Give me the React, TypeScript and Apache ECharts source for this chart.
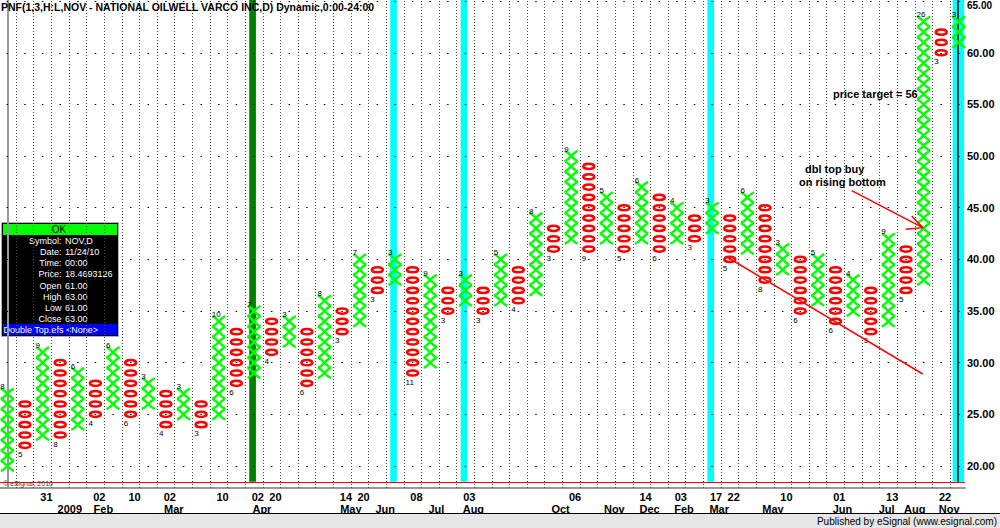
import React, { useEffect, useRef } from 'react';
import * as echarts from 'echarts';

// ---- data ----
const colType = ['X','O','X','O','X','O','X','O','X','O','X','O','X','O','X','O','X','O','X','O','X','O','X','O','X','O','X','O','X','O','X','O','X','O','X','O','X','O','X','O','X','O','X','O','X','O','X','O','X','O','X','O','X','O','X'];
const colLow = [20,22,23,23,24,25,26,25,26,24,25,24,25,28,29,31,32,28,29,33,34,37,38,29,30,35,36,35,36,36,37,41,42,41,42,41,42,41,42,42,43,40,41,38,39,35,36,34,35,33,34,37,38,60,61];
const colHigh = [27,26,31,30,29,28,31,30,28,27,27,26,34,33,35,34,34,33,36,35,40,39,40,39,38,37,38,37,40,39,44,43,50,49,46,45,47,46,45,44,45,44,46,45,41,40,40,39,38,37,42,41,63,62,63];

const yTicks = [20, 25, 30, 35, 40, 45, 50, 55, 60, 65];
const dayCols = [2, 5, 7, 9, 12, 14, 15, 19, 20, 23, 26, 32, 36, 38, 40, 41, 44, 47, 50, 53];
const dayTexts = ['31','02','10','02','10','02','20','14','20','08','03','06','14','03','17','22','10','01','13','22'];
const monthPos = [3.55, 5.45, 9.45, 14.45, 19.5, 21.45, 24.35, 26.45, 31.4, 34.45, 36.45, 38.4, 40.4, 43.45, 47.4, 49.9, 51.5, 53.45];
const monthTexts = ['2009','Feb','Mar','Apr','May','Jun','Jul','Aug','Oct','Nov','Dec','Feb','Mar','May','Jun','Jul','Aug','Nov'];

const bandCols = [14, 22, 26, 40, 54];
const bandKinds = ['signal', 'cyan', 'cyan', 'cyan', 'current'];

const cursorPrice = 18.4693126;
const lastPrice = 63.63;

const infoLabels = ['Symbol:', 'Date:', 'Time:', 'Price:', 'Open', 'High', 'Low', 'Close'];
const infoValues = ['NOV,D', '11/24/10', '00:00', '18.4693126', '61.00', '63.00', '61.00', '63.00'];

const titleText = 'PNF(1,3,H:L,NOV - NATIONAL OILWELL VARCO INC,D) Dynamic,0:00-24:00';

// ---- styles ----
const FONT = '"Liberation Sans", Arial, sans-serif';
const X_COLOR = '#00ff00';
const O_COLOR = '#ff0000';
const CYAN = '#00ffff';
const DARK_GREEN = '#008000';

const X_MIN = -0.414;
const X_MAX = 54.35;
const Y_MIN = 17.87;
const Y_MAX = 65.11;

function lookup(positions: number[], texts: string[]) {
  return (v: number) => {
    const i = positions.findIndex((p) => Math.abs(p - v) < 1e-6);
    return i >= 0 ? texts[i] : '';
  };
}

export default function App() {
  const ref = useRef<HTMLDivElement>(null);

  useEffect(() => {
    if (!ref.current) return;
    const chart = echarts.init(ref.current, null, { renderer: 'svg' });

    const boxData: number[][] = [];
    const countData: number[][] = [];
    for (let c = 0; c < colLow.length; c++) {
      const k = colType[c] === 'X' ? 0 : 1;
      for (let v = colLow[c]; v <= colHigh[c]; v++) boxData.push([c, v, k]);
      countData.push([c, k === 0 ? colHigh[c] : colLow[c], colHigh[c] - colLow[c] + 1, k]);
    }

    const boundaries: number[] = [];
    for (let c = 0; c < colLow.length - 1; c++) boundaries.push(c + 0.5);

    const dayPos = dayCols.map((c) => c + 0.22);
    const topTick = yTicks[yTicks.length - 1];

    const bandAreas = bandCols.map((c, i) => {
      const kind = bandKinds[i];
      const lo = kind === 'current' ? c - 0.35 : c - 0.27;
      const hi = kind === 'current' ? c + 0.3 : c + 0.11;
      return [
        { xAxis: lo, yAxis: cursorPrice, itemStyle: { color: kind === 'signal' ? DARK_GREEN : CYAN, opacity: 1 } },
        { xAxis: hi, yAxis: Y_MAX },
      ];
    });
    const currentBandLines = bandCols
      .filter((_, i) => bandKinds[i] === 'current')
      .map((c) => [
        { coord: [c - 0.08, cursorPrice] },
        { coord: [c - 0.08, Y_MAX] },
      ]);

    const labelCommon = {
      color: '#000',
      fontWeight: 'bold' as const,
      fontSize: 11,
      fontFamily: FONT,
    };

    const infoTop = 223;
    const infoChildren: any[] = [
      { type: 'rect', shape: { x: 1.5, y: infoTop - 0.5, width: 117, height: 114 }, style: { fill: '#000', stroke: '#b0b0b0', lineWidth: 1 } },
      { type: 'rect', shape: { x: 3, y: infoTop + 1, width: 114, height: 11 }, style: { fill: '#00ff00' } },
      { type: 'text', x: 59, y: infoTop + 6.5, style: { text: 'OK', fill: '#000', font: `10px ${FONT}`, align: 'center', verticalAlign: 'middle' } },
      { type: 'rect', shape: { x: 3, y: infoTop + 101, width: 114, height: 11 }, style: { fill: '#0000ff' } },
      { type: 'text', x: 3.5, y: infoTop + 107, style: { text: 'Double Top.efs <None>', fill: '#fff', font: `9px ${FONT}`, align: 'left', verticalAlign: 'middle' } },
    ];
    infoLabels.forEach((lab, i) => {
      const y = infoTop + 18 + i * 11.14;
      infoChildren.push({ type: 'text', x: 61.5, y, style: { text: lab, fill: '#fff', font: `9px ${FONT}`, align: 'right', verticalAlign: 'middle' } });
      infoChildren.push({ type: 'text', x: 65, y, style: { text: infoValues[i], fill: '#fff', font: `9px ${FONT}`, align: 'left', verticalAlign: 'middle' } });
    });

    const option: any = {
      animation: false,
      backgroundColor: '#fff',
      grid: { left: 0, right: 35, top: 0, bottom: 40, containLabel: false, outerBoundsMode: 'none' },
      xAxis: [
        {
          type: 'value', min: X_MIN, max: X_MAX,
          axisLine: { show: true, onZero: false, lineStyle: { color: '#9a9a9a', width: 2 } },
          axisTick: { show: false }, axisLabel: { show: false }, splitLine: { show: false },
        },
        {
          type: 'value', min: X_MIN, max: X_MAX, position: 'bottom', offset: 0,
          axisLine: { show: false },
          axisTick: { show: false },
          axisLabel: { ...labelCommon, customValues: dayPos, formatter: lookup(dayPos, dayTexts), margin: 3, hideOverlap: false },
          splitLine: { show: false },
        },
        {
          type: 'value', min: X_MIN, max: X_MAX, position: 'bottom', offset: 12,
          axisLine: { show: false },
          axisTick: { show: false },
          axisLabel: { ...labelCommon, customValues: monthPos, formatter: lookup(monthPos, monthTexts), margin: 3, hideOverlap: false },
          splitLine: { show: false },
        },
      ],
      yAxis: {
        type: 'value', position: 'right', min: Y_MIN, max: Y_MAX,
        axisLine: { show: true, lineStyle: { color: '#9a9a9a', width: 2 } },
        axisTick: { show: false },
        axisLabel: {
          ...labelCommon, customValues: yTicks, margin: 2, verticalAlignMaxLabel: 'top',
          formatter: (v: number) => (Math.abs(v - topTick) < 1e-6 ? `{s|${v.toFixed(2)}}` : v.toFixed(2)),
          rich: { s: { fontSize: 10, lineHeight: 9, fontWeight: 'bold', fontFamily: FONT, color: '#000' } },
        },
        splitLine: { show: false },
      },
      series: [
        {
          // background grid + bands
          type: 'line', data: [], z: 1, silent: true,
          markArea: { silent: true, z: 1, data: bandAreas },
          markLine: {
            silent: true, z: 1, symbol: 'none', label: { show: false },
            data: [
              ...boundaries.map((b) => ({ xAxis: b, lineStyle: { color: '#444', type: [1, 2], width: 1 } })),
              ...yTicks.map((v) => ({ yAxis: v, lineStyle: { color: '#000', type: [1.5, 16.12], dashOffset: 11.1, width: 1 } })),
            ],
          },
        },
        {
          type: 'line', data: [], z: 2, silent: true,
          markLine: {
            silent: true, z: 2, symbol: 'none', label: { show: false },
            data: [
              ...currentBandLines.map((seg) => [{ ...seg[0], lineStyle: { color: '#000', width: 1.5, type: 'solid' } }, seg[1]]),
              { yAxis: cursorPrice, lineStyle: { color: '#ff0000', width: 1, type: 'solid' } },
            ],
          },
        },
        {
          type: 'custom', z: 3, silent: true,
          data: boxData,
          renderItem: (params: any, api: any) => {
            const c = api.value(0);
            const v = api.value(1);
            const k = api.value(2);
            const p = api.coord([c, v]);
            const s = api.size([1, 1]);
            const x = p[0], y = p[1];
            if (k === 0) {
              const hw = s[0] * 0.37;
              const hh = s[1] * 0.5;
              const st = { stroke: X_COLOR, lineWidth: 2.4, fill: 'none' };
              return {
                type: 'group',
                children: [
                  { type: 'bezierCurve', shape: { x1: x - hw, y1: y - hh, cpx1: x - hw * 0.1, cpy1: y - hh * 0.55, x2: x + hw, y2: y + hh, cpx2: x + hw * 0.1, cpy2: y + hh * 0.55 }, style: st },
                  { type: 'bezierCurve', shape: { x1: x + hw, y1: y - hh, cpx1: x + hw * 0.1, cpy1: y - hh * 0.55, x2: x - hw, y2: y + hh, cpx2: x - hw * 0.1, cpy2: y + hh * 0.55 }, style: st },
                ],
              };
            }
            return {
              type: 'ellipse',
              shape: { cx: x, cy: y, rx: s[0] * 0.31, ry: s[1] * 0.25 },
              style: { fill: 'none', stroke: O_COLOR, lineWidth: 2.5 },
            };
          },
        },
        {
          type: 'custom', z: 4, silent: true,
          data: countData,
          renderItem: (params: any, api: any) => {
            const c = api.value(0);
            const v = api.value(1);
            const n = api.value(2);
            const k = api.value(3);
            const p = api.coord([c, v]);
            return {
              type: 'text',
              x: p[0] - 7,
              y: k === 0 ? p[1] - 7 : p[1] + 9,
              style: { text: String(n), fill: '#000', font: `8px ${FONT}`, align: 'left', verticalAlign: 'middle' },
            };
          },
        },
        {
          type: 'line', data: [], z: 6, silent: true,
          markLine: {
            silent: true, z: 6, symbol: 'none',
            lineStyle: { opacity: 0, width: 0 },
            label: {
              show: true, position: 'end', distance: 1, offset: [0, 1.5], formatter: lastPrice.toFixed(2),
              color: '#fff', backgroundColor: '#000', fontWeight: 'bold', fontSize: 11, fontFamily: FONT,
              lineHeight: 10, padding: [0, 2, 0, 2],
            },
            data: [{ yAxis: lastPrice }],
          },
        },
      ],
      graphic: [
        { type: 'text', z: 100, x: 1, y: 7, style: { text: titleText, fill: '#000', font: `bold 10.5px ${FONT}`, align: 'left', verticalAlign: 'middle' } },
        { type: 'text', z: 100, x: 3, y: 483, style: { text: '\u00a9 eSignal, 2010', fill: '#444', font: `7px ${FONT}`, align: 'left', verticalAlign: 'middle' } },
        { type: 'group', z: 100, children: infoChildren },
        { type: 'text', z: 100, x: 833, y: 94, style: { text: 'price target = 56', fill: '#000', font: `bold 11px ${FONT}`, align: 'left', verticalAlign: 'middle' } },
        { type: 'text', z: 100, x: 805, y: 169, style: { text: 'dbl top buy', fill: '#000', font: `bold 11px ${FONT}`, align: 'left', verticalAlign: 'middle' } },
        { type: 'text', z: 100, x: 799, y: 182, style: { text: 'on rising bottom', fill: '#000', font: `bold 11px ${FONT}`, align: 'left', verticalAlign: 'middle' } },
        { type: 'polyline', z: 100, shape: { points: [[851.7, 190.7], [922.7, 227.7]] }, style: { stroke: '#ff0000', lineWidth: 1.5, fill: 'none' } },
        { type: 'polyline', z: 100, shape: { points: [[911.7, 216], [922.7, 227.7], [905.7, 229.3]] }, style: { stroke: '#ff0000', lineWidth: 1.5, fill: 'none' } },
        { type: 'polyline', z: 100, shape: { points: [[727, 257], [922.7, 374]] }, style: { stroke: '#ff0000', lineWidth: 1.5, fill: 'none' } },
        { type: 'line', z: 100, shape: { x1: 0, y1: 513.5, x2: 1000, y2: 513.5 }, style: { stroke: '#000', lineWidth: 1 } },
        { type: 'rect', z: 100, shape: { x: 0, y: 514, width: 1000, height: 14 }, style: { fill: '#e6e6e6' } },
        { type: 'text', z: 101, x: 997, y: 521, style: { text: 'Published by eSignal (www.esignal.com)', fill: '#000', font: `10px ${FONT}`, align: 'right', verticalAlign: 'middle' } },
      ],
    };

    chart.setOption(option);
    return () => chart.dispose();
  }, []);

  return (
    <div
      ref={ref}
      style={{ position: 'fixed', left: 0, top: 0, width: 1000, height: 528, background: '#fff' }}
    />
  );
}
